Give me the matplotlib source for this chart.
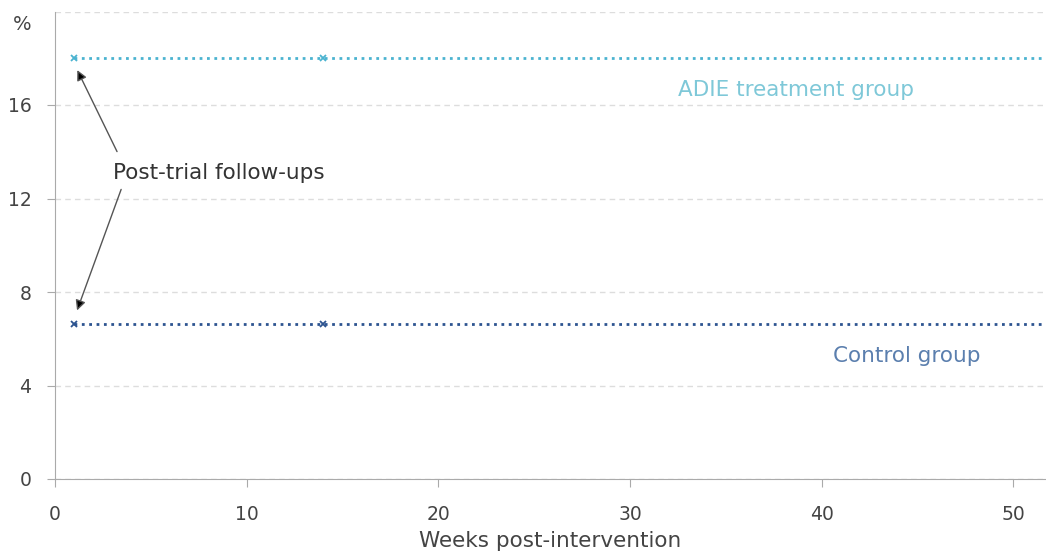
import matplotlib
matplotlib.use("Agg")
import matplotlib.pyplot as plt

weeks = [1, 14, 53]
adie = [18.0, 18.0, 18.0]
control = [6.65, 6.65, 6.65]
marker_weeks = [1, 14]
adie_marks = [18.0, 18.0]
control_marks = [6.65, 6.65]
yticks = [0, 4, 8, 12, 16, 20]
xticks = [0, 10, 20, 30, 40, 50]

plt.rcParams['font.family'] = ['DejaVu Sans']
fig = plt.figure(figsize=(10.46, 5.54), dpi=100)
ax = fig.add_axes([55/1046, 1-479/554, 1-55/1046, (479-11.5)/554])

c_adie = '#4bb3d0'
c_ctrl = '#2d5490'
ax.plot(weeks, adie, linestyle=':', color=c_adie, lw=2, clip_on=True)
ax.plot(weeks, control, linestyle=':', color=c_ctrl, lw=2, clip_on=True)
ax.plot(marker_weeks, adie_marks, linestyle='none', marker='x', color=c_adie, ms=5, mew=1.3)
ax.plot(marker_weeks, control_marks, linestyle='none', marker='x', color=c_ctrl, ms=5, mew=1.3)

ax.set_xlim(0, 51.7)
ax.set_ylim(0, 20)
ax.set_yticks(yticks[:-1])
ax.set_xticks(xticks)
ax.yaxis.grid(True, linestyle=(0, (4, 3)), color='#dddddd', lw=1)
ax.axhline(20, linestyle=(0, (4, 3)), color='#dddddd', lw=1)
ax.set_axisbelow(True)
for s in ['top', 'right']:
    ax.spines[s].set_visible(False)
for s in ['left', 'bottom']:
    ax.spines[s].set_color('#aaaaaa')
ax.tick_params(colors='#aaaaaa', labelcolor='#444444', labelsize=13.5, length=6, direction='out')
ax.tick_params(axis='y', pad=11)
ax.tick_params(axis='x', pad=13)
ax.set_xlabel('Weeks post-intervention', fontsize=15.5, color='#444444', labelpad=5)
ax.text(-1.25, 19.45, '%', fontsize=14, color='#444444', ha='right', va='center')

ax.text(3.0, 13.1, 'Post-trial follow-ups', fontsize=15.5, color='#333333', va='center', ha='left')
ax.annotate('', xy=(1.1, 17.6), xytext=(3.3, 13.9),
            arrowprops=dict(arrowstyle='-|>', color='#555555', fc='black', ec='#555555',
                            lw=1, mutation_scale=15))
ax.annotate('', xy=(1.1, 7.1), xytext=(3.5, 12.5),
            arrowprops=dict(arrowstyle='-|>', color='#555555', fc='black', ec='#555555',
                            lw=1, mutation_scale=15))

ax.text(32.5, 16.64, 'ADIE treatment group', fontsize=15.5, color='#7ec8d8', va='center')
ax.text(40.6, 5.26, 'Control group', fontsize=15.5, color='#5b7fae', va='center')

fig.savefig('out.png', dpi=100)
